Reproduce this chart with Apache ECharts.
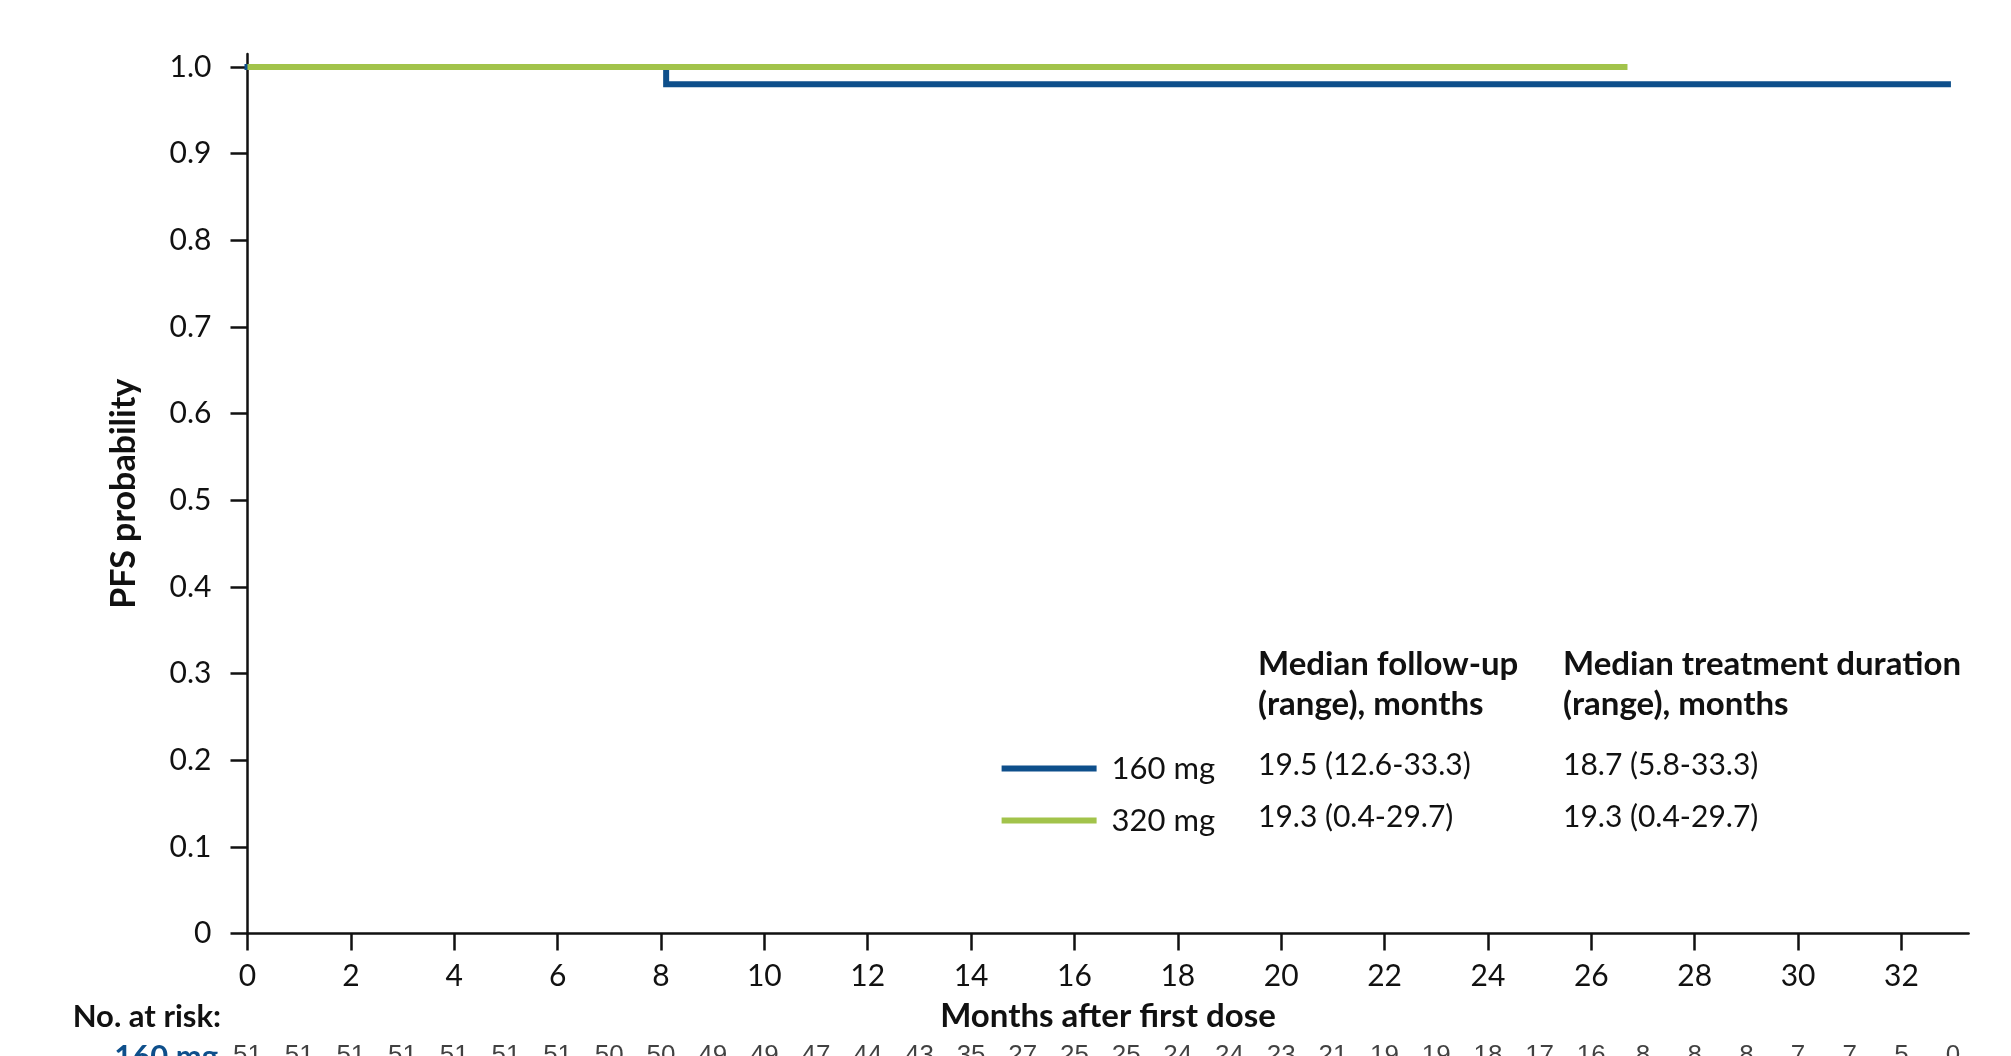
<!DOCTYPE html>
<html>
<head>
<meta charset="utf-8">
<script src="https://cdn.jsdelivr.net/npm/echarts@6/dist/echarts.min.js"></script>
<style>
html,body{margin:0;padding:0;background:#fff;}
#chart{width:2011px;height:1056px;}
</style>
</head>
<body>
<div id="chart"></div>
<script>
// ---- data ----
const seriesNames = ['160 mg', '320 mg'];
const seriesColors = ['#0e4f8b', '#a2c34b'];
// Kaplan-Meier step points (months, PFS probability)
const months160 = [0, 8.1, 32.9];
const surv160 = [1.0, 0.980, 0.980];
const months320 = [0, 26.7];
const surv320 = [1.0, 1.0];
const xTicks = [0, 2, 4, 6, 8, 10, 12, 14, 16, 18, 20, 22, 24, 26, 28, 30, 32];
const yTicks = [0, 0.1, 0.2, 0.3, 0.4, 0.5, 0.6, 0.7, 0.8, 0.9, 1.0];
const riskMonths = [0,1,2,3,4,5,6,7,8,9,10,11,12,13,14,15,16,17,18,19,20,21,22,23,24,25,26,27,28,29,30,31,32,33];
const risk160 = [51,51,51,51,51,51,51,50,50,49,49,47,44,43,35,27,25,25,24,24,23,21,19,19,18,17,16,8,8,8,7,7,5,0];
const tableHeaders = [['Median follow-up', '(range), months'], ['Median treatment duration', '(range), months']];
const followUp = ['19.5 (12.6-33.3)', '19.3 (0.4-29.7)'];
const treatDur = ['18.7 (5.8-33.3)', '19.3 (0.4-29.7)'];

// ---- layout ----
const FONT = 'Lato';
const BOLD = 33;
const GL = 247.5, GR = 42.4, GT = 54, GB = 122.4;
const chart = echarts.init(document.getElementById('chart'), null, {renderer: 'canvas'});

const colX = [1258, 1563];
const headY = [664, 704];
const rowY = [765.6, 817];

const graphics = [];
tableHeaders.forEach((h, c) => {
  h.forEach((line, i) => {
    graphics.push({type: 'text', x: colX[c], y: headY[i],
      style: {text: line, font: 'bold ' + BOLD + 'px ' + FONT, fill: '#111', align: 'left', verticalAlign: 'middle'}});
  });
});
[followUp, treatDur].forEach((col, c) => {
  col.forEach((v, r) => {
    graphics.push({type: 'text', x: colX[c], y: rowY[r],
      style: {text: v, font: '30px ' + FONT, fill: '#111', align: 'left', verticalAlign: 'middle'}});
  });
});
graphics.push({type: 'text', x: 221, y: 1017,
  style: {text: 'No. at risk:', font: 'bold 31px ' + FONT, fill: '#111', align: 'right', verticalAlign: 'middle'}});
graphics.push({type: 'text', x: 218, y: 1057,
  style: {text: seriesNames[0], font: 'bold 31px ' + FONT, fill: seriesColors[0], align: 'right', verticalAlign: 'middle'}});

chart.setOption({
  animation: false,
  backgroundColor: '#fff',
  grid: [
    {left: GL, right: GR, top: GT, bottom: GB, containLabel: false},
    {left: GL, right: GR, top: 1000, bottom: 0, containLabel: false}
  ],
  legend: {
    orient: 'vertical', left: 996.6, top: 748,
    itemWidth: 95, itemHeight: 6, icon: 'rect', itemGap: 21,
    textStyle: {fontFamily: FONT, fontSize: 31, color: '#111', lineHeight: 28, padding: [0, 0, 0, 10]},
    data: seriesNames
  },
  xAxis: [{
    type: 'value', gridIndex: 0, min: 0, max: 33.3,
    name: 'Months after first dose', nameLocation: 'middle', nameGap: 83,
    nameTextStyle: {fontFamily: FONT, fontWeight: 'bold', fontSize: BOLD, color: '#111', verticalAlign: 'middle'},
    axisLine: {show: true, lineStyle: {color: '#111', width: 2.5}},
    axisTick: {show: true, length: 17, inside: false, customValues: xTicks, lineStyle: {color: '#111', width: 2.5}},
    axisLabel: {show: true, customValues: xTicks, margin: 28, fontFamily: FONT, fontSize: 30, color: '#111'},
    splitLine: {show: false}
  }, {
    type: 'value', gridIndex: 1, min: 0, max: 33.3, show: false
  }],
  yAxis: [{
    type: 'value', gridIndex: 0, min: 0, max: 1.015,
    name: 'PFS probability', nameLocation: 'middle', nameGap: 123.5, nameRotate: 90,
    nameTextStyle: {fontFamily: FONT, fontWeight: 'bold', fontSize: 34, color: '#111', verticalAlign: 'middle'},
    axisLine: {show: true, lineStyle: {color: '#111', width: 2.5}},
    axisTick: {show: true, length: 17, inside: false, customValues: yTicks, lineStyle: {color: '#111', width: 2.5}},
    axisLabel: {show: true, customValues: yTicks, margin: 36, fontFamily: FONT, fontSize: 30, color: '#111',
      formatter: v => v === 0 ? '0' : v.toFixed(1)},
    splitLine: {show: false}
  }, {
    type: 'value', gridIndex: 1, min: 0, max: 1, show: false
  }],
  series: [{
    name: seriesNames[0], type: 'line', xAxisIndex: 0, yAxisIndex: 0, step: 'end',
    data: months160.map((m, i) => [m, surv160[i]]),
    showSymbol: false, symbol: 'none', lineStyle: {color: seriesColors[0], width: 6, cap: 'square', join: 'miter'},
    itemStyle: {color: seriesColors[0]}, z: 2
  }, {
    name: seriesNames[1], type: 'line', xAxisIndex: 0, yAxisIndex: 0, step: 'end',
    data: months320.map((m, i) => [m, surv320[i]]),
    showSymbol: false, symbol: 'none', lineStyle: {color: seriesColors[1], width: 6, cap: 'butt'},
    itemStyle: {color: seriesColors[1]}, z: 3
  }, {
    name: 'risk160', type: 'scatter', xAxisIndex: 1, yAxisIndex: 1, clip: false,
    data: riskMonths.map((m, i) => [m, 0, risk160[i]]),
    symbolSize: 1, itemStyle: {color: 'rgba(0,0,0,0)'}, silent: true,
    label: {show: true, position: 'inside', formatter: p => String(p.data[2]),
      fontFamily: 'Liberation Sans', fontSize: 26, color: '#111'}
  }],
  graphic: graphics
});
</script>
</body>
</html>
